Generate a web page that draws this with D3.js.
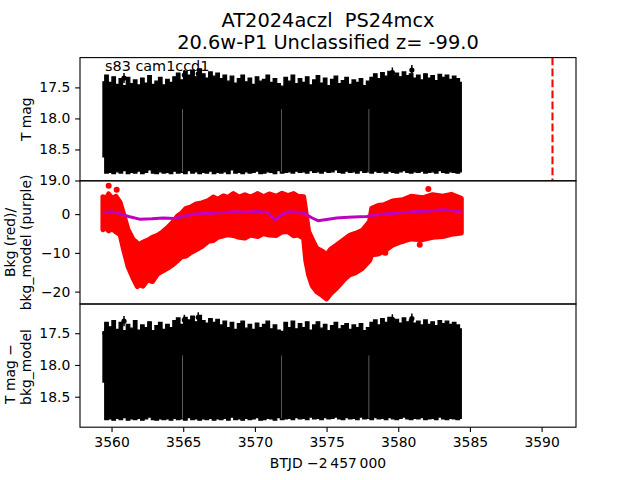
<!DOCTYPE html>
<html>
<head>
<meta charset="utf-8">
<script src="https://cdn.jsdelivr.net/npm/d3@7"></script>
<style>
  body { margin: 0; background: #fff; }
  svg { display: block; }
  text { font-family: "DejaVu Sans", sans-serif; white-space: pre; }
</style>
</head>
<body>
<script>
// ---------------- DATA ----------------
const titleLines = ["AT2024aczl  PS24mcx", "20.6w-P1 Unclassified z= -99.0"];
const stampText = "s83 cam1ccd1";
const xLabel = "BTJD \u22122\u2009457\u2009000";

const xTicks = [3560, 3565, 3570, 3575, 3580, 3585, 3590];
const magTicksTop = [17.5, 18.0, 18.5, 19.0];
const bkgTicks = [0, -10, -20];
const magTicksBottom = [17.5, 18.0, 18.5];

// light-curve envelope sample times (BTJD - 2457000)
const lcTime = [
  3559.40, 3559.65, 3559.90, 3560.15, 3560.40, 3560.65, 3560.90, 3561.15, 3561.40, 3561.65,
  3561.90, 3562.15, 3562.40, 3562.65, 3562.90, 3563.15, 3563.40, 3563.65, 3563.90, 3564.15,
  3564.40, 3564.65, 3564.90, 3565.15, 3565.40, 3565.65, 3565.90, 3566.15, 3566.40, 3566.65,
  3566.90, 3567.15, 3567.40, 3567.65, 3567.90, 3568.15, 3568.40, 3568.65, 3568.90, 3569.15,
  3569.40, 3569.65, 3569.90, 3570.15, 3570.40, 3570.65, 3570.90, 3571.15, 3571.40, 3571.65,
  3571.90, 3572.15, 3572.40, 3572.65, 3572.90, 3573.15, 3573.40, 3573.65, 3573.90, 3574.15,
  3574.40, 3574.65, 3574.90, 3575.15, 3575.40, 3575.65, 3575.90, 3576.15, 3576.40, 3576.65,
  3576.90, 3577.15, 3577.40, 3577.65, 3577.90, 3578.15, 3578.40, 3578.65, 3578.90, 3579.15,
  3579.40, 3579.65, 3579.90, 3580.15, 3580.40, 3580.65, 3580.90, 3581.15, 3581.40, 3581.65,
  3581.90, 3582.15, 3582.40, 3582.65, 3582.90, 3583.15, 3583.40, 3583.65, 3583.90, 3584.15,
  3584.40
];
// T mag: brightest (top) and faintest (bottom) edge of the dense points
const magUpper = [
  17.41, 17.30, 17.42, 17.33, 17.45, 17.36, 17.47, 17.34, 17.44, 17.38,
  17.46, 17.35, 17.43, 17.31, 17.45, 17.40, 17.34, 17.46, 17.37, 17.42,
  17.33, 17.27, 17.38, 17.24, 17.30, 17.22, 17.33, 17.20, 17.28, 17.35,
  17.25, 17.32, 17.27, 17.36, 17.30, 17.40, 17.32, 17.43, 17.36, 17.30,
  17.41, 17.35, 17.45, 17.33, 17.40, 17.37, 17.30, 17.42, 17.36, 17.44,
  17.48, 17.34, 17.40, 17.30, 17.44, 17.36, 17.42, 17.33, 17.46, 17.38,
  17.31, 17.43, 17.35, 17.47, 17.37, 17.32, 17.44, 17.39, 17.34, 17.45,
  17.38, 17.42, 17.36, 17.47, 17.40, 17.34, 17.28, 17.36, 17.26, 17.32,
  17.24, 17.30, 17.27, 17.33, 17.25, 17.31, 17.28, 17.35, 17.30, 17.38,
  17.28, 17.35, 17.31, 17.39, 17.29, 17.34, 17.30, 17.37, 17.32, 17.36,
  17.42
];
const magLower = [
  18.62, 18.88, 18.87, 18.89, 18.86, 18.88, 18.84, 18.89, 18.87, 18.88,
  18.85, 18.89, 18.87, 18.83, 18.88, 18.89, 18.86, 18.88, 18.87, 18.89,
  18.85, 18.88, 18.87, 18.89, 18.84, 18.88, 18.86, 18.89, 18.87, 18.88,
  18.85, 18.89, 18.87, 18.88, 18.86, 18.89, 18.83, 18.88, 18.87, 18.89,
  18.86, 18.88, 18.87, 18.85, 18.89, 18.88, 18.86, 18.87, 18.89, 18.84,
  18.88, 18.87, 18.86, 18.88, 18.85, 18.87, 18.86, 18.88, 18.84, 18.87,
  18.86, 18.88, 18.85, 18.87, 18.86, 18.83, 18.87, 18.88, 18.85, 18.87,
  18.86, 18.88, 18.84, 18.87, 18.86, 18.88, 18.85, 18.87, 18.86, 18.88,
  18.85, 18.87, 18.88, 18.86, 18.84, 18.87, 18.88, 18.86, 18.87, 18.85,
  18.88, 18.87, 18.86, 18.88, 18.84, 18.87, 18.88, 18.86, 18.87, 18.88,
  18.86
];
// T mag - bkg_model envelope
const corrUpper = [
  17.48, 17.33, 17.40, 17.30, 17.44, 17.33, 17.46, 17.36, 17.42, 17.30,
  17.45, 17.37, 17.41, 17.32, 17.46, 17.38, 17.33, 17.44, 17.36, 17.41,
  17.30, 17.26, 17.36, 17.25, 17.29, 17.23, 17.32, 17.22, 17.30, 17.34,
  17.27, 17.33, 17.28, 17.37, 17.31, 17.41, 17.33, 17.44, 17.35, 17.31,
  17.42, 17.36, 17.44, 17.34, 17.41, 17.36, 17.31, 17.43, 17.37, 17.45,
  17.47, 17.33, 17.41, 17.31, 17.43, 17.35, 17.41, 17.32, 17.45, 17.37,
  17.32, 17.42, 17.36, 17.46, 17.38, 17.33, 17.43, 17.38, 17.35, 17.44,
  17.37, 17.41, 17.35, 17.46, 17.41, 17.33, 17.29, 17.37, 17.27, 17.33,
  17.25, 17.31, 17.28, 17.34, 17.26, 17.32, 17.29, 17.34, 17.31, 17.37,
  17.29, 17.36, 17.32, 17.38, 17.30, 17.35, 17.31, 17.36, 17.33, 17.37,
  17.43
];
const corrLower = [
  18.27, 18.86, 18.85, 18.87, 18.84, 18.86, 18.83, 18.87, 18.85, 18.86,
  18.84, 18.87, 18.85, 18.82, 18.86, 18.87, 18.85, 18.86, 18.85, 18.87,
  18.84, 18.86, 18.85, 18.87, 18.83, 18.86, 18.85, 18.87, 18.85, 18.86,
  18.84, 18.87, 18.85, 18.86, 18.84, 18.87, 18.82, 18.86, 18.85, 18.87,
  18.84, 18.86, 18.85, 18.83, 18.87, 18.86, 18.84, 18.85, 18.87, 18.83,
  18.86, 18.85, 18.84, 18.86, 18.83, 18.85, 18.84, 18.86, 18.82, 18.85,
  18.84, 18.86, 18.83, 18.85, 18.84, 18.82, 18.85, 18.86, 18.83, 18.85,
  18.84, 18.86, 18.82, 18.85, 18.84, 18.86, 18.83, 18.85, 18.84, 18.86,
  18.83, 18.85, 18.86, 18.84, 18.82, 18.85, 18.86, 18.84, 18.85, 18.83,
  18.86, 18.85, 18.84, 18.86, 18.82, 18.85, 18.86, 18.84, 18.85, 18.86,
  18.84
];
// visible outlying points with error bars
const magOutT   = [3560.87, 3565.08, 3566.05, 3579.59, 3580.95];
const magOutV   = [17.35, 17.30, 17.28, 17.26, 17.22];
const corrOutT  = [3559.55, 3560.87, 3565.08, 3566.05, 3579.59, 3580.95];
const corrOutV  = [17.50, 17.31, 17.29, 17.25, 17.28, 17.27];
const outErr    = 0.08;
// small gaps between orbits / downlinks
const gapTimes = [3564.95, 3571.85, 3577.95];

// background flux (red): [time, upper edge, lower edge]
const bkgEnvelope = [
  [3559.40, 4.5, -4.0], [3559.60, 3.8, -3.5], [3559.80, 5.2, -4.3], [3560.05, 4.0, -3.8],
  [3560.30, 4.6, -4.6], [3560.60, 3.0, -5.3], [3560.80, 0.5, -8.5], [3561.15, -4.0, -13.5],
  [3561.50, -6.5, -16.5], [3561.80, -7.5, -18.7], [3561.95, -7.9, -18.2], [3562.20, -7.2, -18.6],
  [3562.50, -6.8, -17.0], [3562.85, -6.0, -17.4], [3563.20, -5.5, -15.5], [3563.50, -4.8, -14.8],
  [3563.90, -3.5, -14.0], [3564.30, -2.0, -13.0], [3564.60, -0.5, -12.0], [3564.90, 0.3, -11.0],
  [3565.20, 1.5, -10.8], [3565.50, 1.8, -10.0], [3565.90, 2.6, -9.2], [3566.30, 2.9, -8.4],
  [3566.75, 3.5, -7.0], [3567.10, 4.4, -6.8], [3567.40, 3.8, -6.0], [3567.80, 4.7, -5.6],
  [3568.10, 4.3, -5.3], [3568.50, 5.3, -5.5], [3568.90, 4.4, -6.0], [3569.30, 5.0, -6.2],
  [3569.70, 4.4, -5.4], [3570.20, 5.3, -5.8], [3570.60, 4.5, -5.0], [3571.00, 5.2, -5.4],
  [3571.50, 4.6, -5.5], [3571.90, 5.4, -4.6], [3572.30, 4.8, -4.5], [3572.70, 5.3, -5.6],
  [3573.00, 4.6, -5.4], [3573.40, 4.5, -6.2], [3573.55, 0.7, -12.0], [3573.75, -4.5, -15.7],
  [3574.00, -6.5, -18.5], [3574.30, -8.8, -20.0], [3574.70, -9.6, -21.0], [3575.00, -10.5, -21.9],
  [3575.30, -9.0, -20.5], [3575.70, -8.0, -19.1], [3576.20, -6.6, -17.0], [3576.60, -5.5, -15.7],
  [3577.00, -5.0, -15.2], [3577.50, -4.2, -14.0], [3578.00, -1.9, -12.0], [3578.15, 1.5, -10.5],
  [3578.60, 2.2, -10.3], [3579.00, 2.4, -9.6], [3579.60, 3.4, -8.0], [3580.30, 3.7, -7.0],
  [3580.90, 4.6, -6.4], [3581.70, 4.2, -6.6], [3582.40, 5.0, -6.0], [3583.10, 4.6, -5.8],
  [3583.70, 5.1, -5.2], [3584.40, 4.1, -4.9]
];
const bkgOutT = [3559.80, 3560.36, 3582.10, 3581.50, 3579.10, 3580.25];
const bkgOutV = [7.3, 6.3, 6.5, -7.9, -10.0, -7.0];

// background model (purple)
const modelTime = [3559.4, 3560.0, 3560.5, 3561.2, 3561.95, 3562.8, 3563.6, 3564.4, 3565.0, 3565.6,
                   3566.3, 3567.0, 3567.8, 3568.6, 3569.4, 3570.2, 3570.9, 3571.4, 3571.8, 3572.3,
                   3573.0, 3573.5, 3574.0, 3574.4, 3575.0, 3575.7, 3576.5, 3577.3, 3577.8, 3578.4,
                   3579.0, 3580.0, 3581.3, 3582.2, 3583.1, 3583.8, 3584.4];
const modelVal  = [0.3, 0.6, 0.2, -0.6, -1.3, -1.2, -1.0, -1.1, -0.6, -0.1,
                   0.2, 0.2, 0.4, 0.6, 0.5, 0.7, 0.4, -1.5, -0.3, 0.6,
                   0.5, 0.1, -1.0, -1.7, -1.4, -1.0, -0.8, -0.7, -0.6, -0.2,
                   0.0, 0.3, 0.7, 0.8, 1.1, 0.9, 0.7];

const eventTime = 3590.76; // red dashed marker

// ---------------- LAYOUT ----------------
const W = 640, H = 480;
const L = 80, R = 576;
const panelTop = [57.6, 180.8, 304.0], panelBot = [180.8, 304.0, 427.2];

const svg = d3.select("body").append("svg").attr("width", W).attr("height", H);
svg.append("rect").attr("width", W).attr("height", H).attr("fill", "#fff");

const x = d3.scaleLinear().domain([3557.8, 3592.4]).range([L, R]);
const y1 = d3.scaleLinear().domain([17.02, 19.005]).range([panelTop[0], panelBot[0]]);
const y2 = d3.scaleLinear().domain([8.6, -23.2]).range([panelTop[1], panelBot[1]]);
const y3 = d3.scaleLinear().domain([17.04, 18.98]).range([panelTop[2], panelBot[2]]);

const defs = svg.append("defs");
[0, 1, 2].forEach(i => {
  defs.append("clipPath").attr("id", "clip" + i)
    .append("rect").attr("x", L).attr("y", panelTop[i])
    .attr("width", R - L).attr("height", panelBot[i] - panelTop[i]);
});

function envelope(times, up, lo) {
  return times.map((t, i) => ({ t: t, up: up[i], lo: lo[i] }));
}

// ---------- panel 1: T mag ----------
const g1 = svg.append("g").attr("clip-path", "url(#clip0)");
const lc1 = envelope(lcTime, magUpper, magLower);
g1.append("path").datum(lc1)
  .attr("d", d3.area().curve(d3.curveStep).x(d => x(d.t)).y0(d => y1(d.lo)).y1(d => y1(d.up)))
  .attr("fill", "#000").attr("stroke", "#000").attr("stroke-width", 1.2);
g1.selectAll("line.gap").data(gapTimes).enter().append("line")
  .attr("x1", d => x(d)).attr("x2", d => x(d))
  .attr("y1", y1(17.85)).attr("y2", y1(18.86))
  .attr("stroke", "#fff").attr("stroke-width", 0.6).attr("opacity", 0.6);
magOutT.forEach((t, i) => {
  g1.append("line").attr("x1", x(t)).attr("x2", x(t))
    .attr("y1", y1(magOutV[i] - outErr)).attr("y2", y1(magOutV[i] + outErr))
    .attr("stroke", "#000").attr("stroke-width", 1.5);
  g1.append("circle").attr("cx", x(t)).attr("cy", y1(magOutV[i])).attr("r", 2.6).attr("fill", "#000");
});
g1.append("line").attr("x1", x(eventTime)).attr("x2", x(eventTime))
  .attr("y1", panelTop[0]).attr("y2", panelBot[0])
  .attr("stroke", "#ff0000").attr("stroke-width", 2.08).attr("stroke-dasharray", "7.7,3.3");

// ---------- panel 2: background ----------
const g2 = svg.append("g").attr("clip-path", "url(#clip1)");
g2.append("path").datum(bkgEnvelope)
  .attr("d", d3.area().x(d => x(d[0])).y0(d => y2(d[2])).y1(d => y2(d[1])))
  .attr("fill", "#ff0000").attr("stroke", "#ff0000").attr("stroke-width", 5).attr("stroke-linejoin", "round");
bkgOutT.forEach((t, i) => {
  g2.append("circle").attr("cx", x(t)).attr("cy", y2(bkgOutV[i])).attr("r", 3).attr("fill", "#ff0000");
});
g2.append("path").datum(modelTime.map((t, i) => ({ t: t, v: modelVal[i] })))
  .attr("d", d3.line().x(d => x(d.t)).y(d => y2(d.v)))
  .attr("fill", "none").attr("stroke", "#bf00bf").attr("stroke-width", 3).attr("stroke-linejoin", "round");

// ---------- panel 3: T mag - bkg_model ----------
const g3 = svg.append("g").attr("clip-path", "url(#clip2)");
const lc3 = envelope(lcTime, corrUpper, corrLower);
g3.append("path").datum(lc3)
  .attr("d", d3.area().curve(d3.curveStep).x(d => x(d.t)).y0(d => y3(d.lo)).y1(d => y3(d.up)))
  .attr("fill", "#000").attr("stroke", "#000").attr("stroke-width", 1.2);
g3.selectAll("line.gap").data(gapTimes).enter().append("line")
  .attr("x1", d => x(d)).attr("x2", d => x(d))
  .attr("y1", y3(17.85)).attr("y2", y3(18.84))
  .attr("stroke", "#fff").attr("stroke-width", 0.6).attr("opacity", 0.6);
corrOutT.forEach((t, i) => {
  g3.append("line").attr("x1", x(t)).attr("x2", x(t))
    .attr("y1", y3(corrOutV[i] - outErr)).attr("y2", y3(corrOutV[i] + outErr))
    .attr("stroke", "#000").attr("stroke-width", 1.5);
  g3.append("circle").attr("cx", x(t)).attr("cy", y3(corrOutV[i])).attr("r", 2.6).attr("fill", "#000");
});

// ---------- axes ----------
function styleAxis(g) {
  g.select(".domain").remove();
  g.selectAll(".tick line").attr("stroke", "#000").attr("stroke-width", 1.1);
  g.selectAll(".tick text").attr("fill", "#000").style("font-size", "13.9px")
    .style("font-family", "DejaVu Sans");
}
const tickLen = 4.86, tickPad = 4.86;
svg.append("g").attr("transform", `translate(${L},0)`)
  .call(d3.axisLeft(y1).tickValues(magTicksTop).tickFormat(d3.format(".1f")).tickSize(tickLen).tickPadding(tickPad))
  .call(styleAxis);
svg.append("g").attr("transform", `translate(${L},0)`)
  .call(d3.axisLeft(y2).tickValues(bkgTicks).tickFormat(d3.format("d")).tickSize(tickLen).tickPadding(tickPad))
  .call(styleAxis);
svg.append("g").attr("transform", `translate(${L},0)`)
  .call(d3.axisLeft(y3).tickValues(magTicksBottom).tickFormat(d3.format(".1f")).tickSize(tickLen).tickPadding(tickPad))
  .call(styleAxis);
svg.append("g").attr("transform", `translate(0,${panelBot[2]})`)
  .call(d3.axisBottom(x).tickValues(xTicks).tickFormat(d3.format("d")).tickSize(tickLen).tickPadding(tickPad))
  .call(styleAxis);

// frames
[0, 1, 2].forEach(i => {
  svg.append("rect").attr("x", L).attr("y", panelTop[i])
    .attr("width", R - L).attr("height", panelBot[i] - panelTop[i])
    .attr("fill", "none").attr("stroke", "#000").attr("stroke-width", 1.1);
});

// ---------- texts ----------
svg.append("text").attr("x", 328).attr("y", 26.5).attr("text-anchor", "middle")
  .style("font-size", "19.4px").text(titleLines[0]);
svg.append("text").attr("x", 328).attr("y", 49.0).attr("text-anchor", "middle")
  .style("font-size", "19.4px").text(titleLines[1]);
svg.append("text").attr("x", 105).attr("y", 70.5).style("font-size", "14.4px").text(stampText);
svg.append("text").attr("x", 328).attr("y", 467.5).attr("text-anchor", "middle")
  .style("font-size", "13.9px").text(xLabel);

function yLabel(txt, xBase, yc) {
  svg.append("text").attr("transform", `translate(${xBase},${yc}) rotate(-90)`)
    .attr("text-anchor", "middle").style("font-size", "13.9px").text(txt);
}
yLabel("T mag", 31, 119.2);
yLabel("Bkg (red)/", 15, 242.4);
yLabel("bkg_model (purple)", 31, 242.4);
yLabel("T mag \u2212", 15, 374);
yLabel("bkg_model", 31, 367);
</script>
</body>
</html>
